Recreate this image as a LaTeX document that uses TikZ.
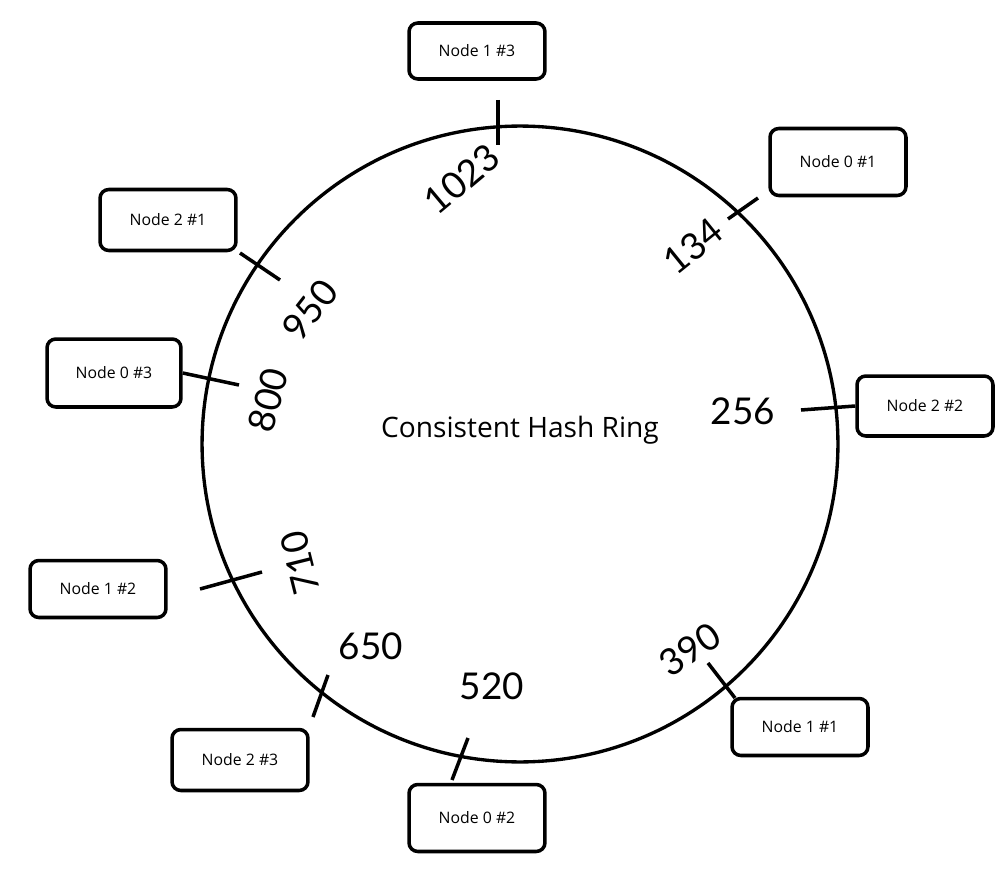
\documentclass[tikz,border=0pt]{standalone}
\usepackage{fontspec}
\setmainfont{Open Sans}
\newfontfamily\numfont{Lato}
\usetikzlibrary{positioning}

\begin{document}
\begin{tikzpicture}[x=0.02cm, y=-0.02cm,
  nodebox/.style={draw, line width=2pt, rounded corners=5pt, minimum width=2.72cm, minimum height=1.22cm, inner sep=0pt, font=\fontsize{9}{11}\selectfont},
  hashnum/.style={inner sep=0pt, font=\numfont\fontsize{21}{24}\selectfont},
  tick/.style={line width=2pt}]
\useasboundingbox (0,0) rectangle (1008,882);

% ring
\node[circle, draw, line width=1.9pt, minimum size=12.72cm, inner sep=0pt] (ring) at (520,444) {};
\node[anchor=base, font=\fontsize{16}{19}\selectfont] (title) at (520,437) {Consistent Hash Ring};

% server nodes
\node[nodebox, minimum height=1.12cm] (n13) at (477,51) {Node 1 \#3};
\node[nodebox, minimum height=1.34cm] (n01) at (838,162) {Node 0 \#1};
\node[nodebox] (n21) at (168,220) {Node 2 \#1};
\node[nodebox, minimum height=1.36cm, minimum width=2.68cm] (n03) at (114,373) {Node 0 \#3};
\node[nodebox, minimum height=1.14cm] (n12) at (98,589) {Node 1 \#2};
\node[nodebox] (n23) at (240,760) {Node 2 \#3};
\node[nodebox, minimum height=1.34cm] (n02) at (477,818) {Node 0 \#2};
\node[nodebox, minimum height=1.14cm] (n11) at (800,727) {Node 1 \#1};
\node[nodebox, minimum height=1.2cm] (n22) at (925,406) {Node 2 \#2};

% hash values
\node[hashnum, rotate=40] (h1023) at (462,179) {1023};
\node[hashnum, rotate=39] (h134) at (693,246) {134};
\node[hashnum] (h256) at (743,411) {256};
\node[hashnum, rotate=34] (h390) at (690,650) {390};
\node[hashnum] (h520) at (492,686) {520};
\node[hashnum] (h650) at (371,646) {650};
\node[hashnum, rotate=104] (h710) at (300,563) {710};
\node[hashnum, rotate=75] (h800) at (268,400) {800};
\node[hashnum, rotate=52] (h950) at (310,310) {950};

% ticks on the ring
\coordinate (a1023) at (498,100);
\coordinate (b1023) at (498,145);
\coordinate (a134) at (758,198);
\coordinate (b134) at (728,219);
\coordinate (b256) at (801,410);
\coordinate (a390) at (735,698);
\coordinate (b390) at (708,663);
\coordinate (a520) at (452,780);
\coordinate (b520) at (468,738);
\coordinate (a650) at (313,717);
\coordinate (b650) at (328,675);
\coordinate (a710) at (200,589);
\coordinate (b710) at (262,572);
\coordinate (b800) at (239,385);
\coordinate (a950) at (240,253);
\coordinate (b950) at (280,280);

\draw[tick] (a1023) -- (b1023);
\draw[tick] (a134) -- (b134);
\draw[tick] (n22.west) -- (b256);
\draw[tick] (a390) -- (b390);
\draw[tick] (a520) -- (b520);
\draw[tick] (a650) -- (b650);
\draw[tick] (a710) -- (b710);
\draw[tick] (n03.east) -- (b800);
\draw[tick] (a950) -- (b950);
\end{tikzpicture}
\end{document}
